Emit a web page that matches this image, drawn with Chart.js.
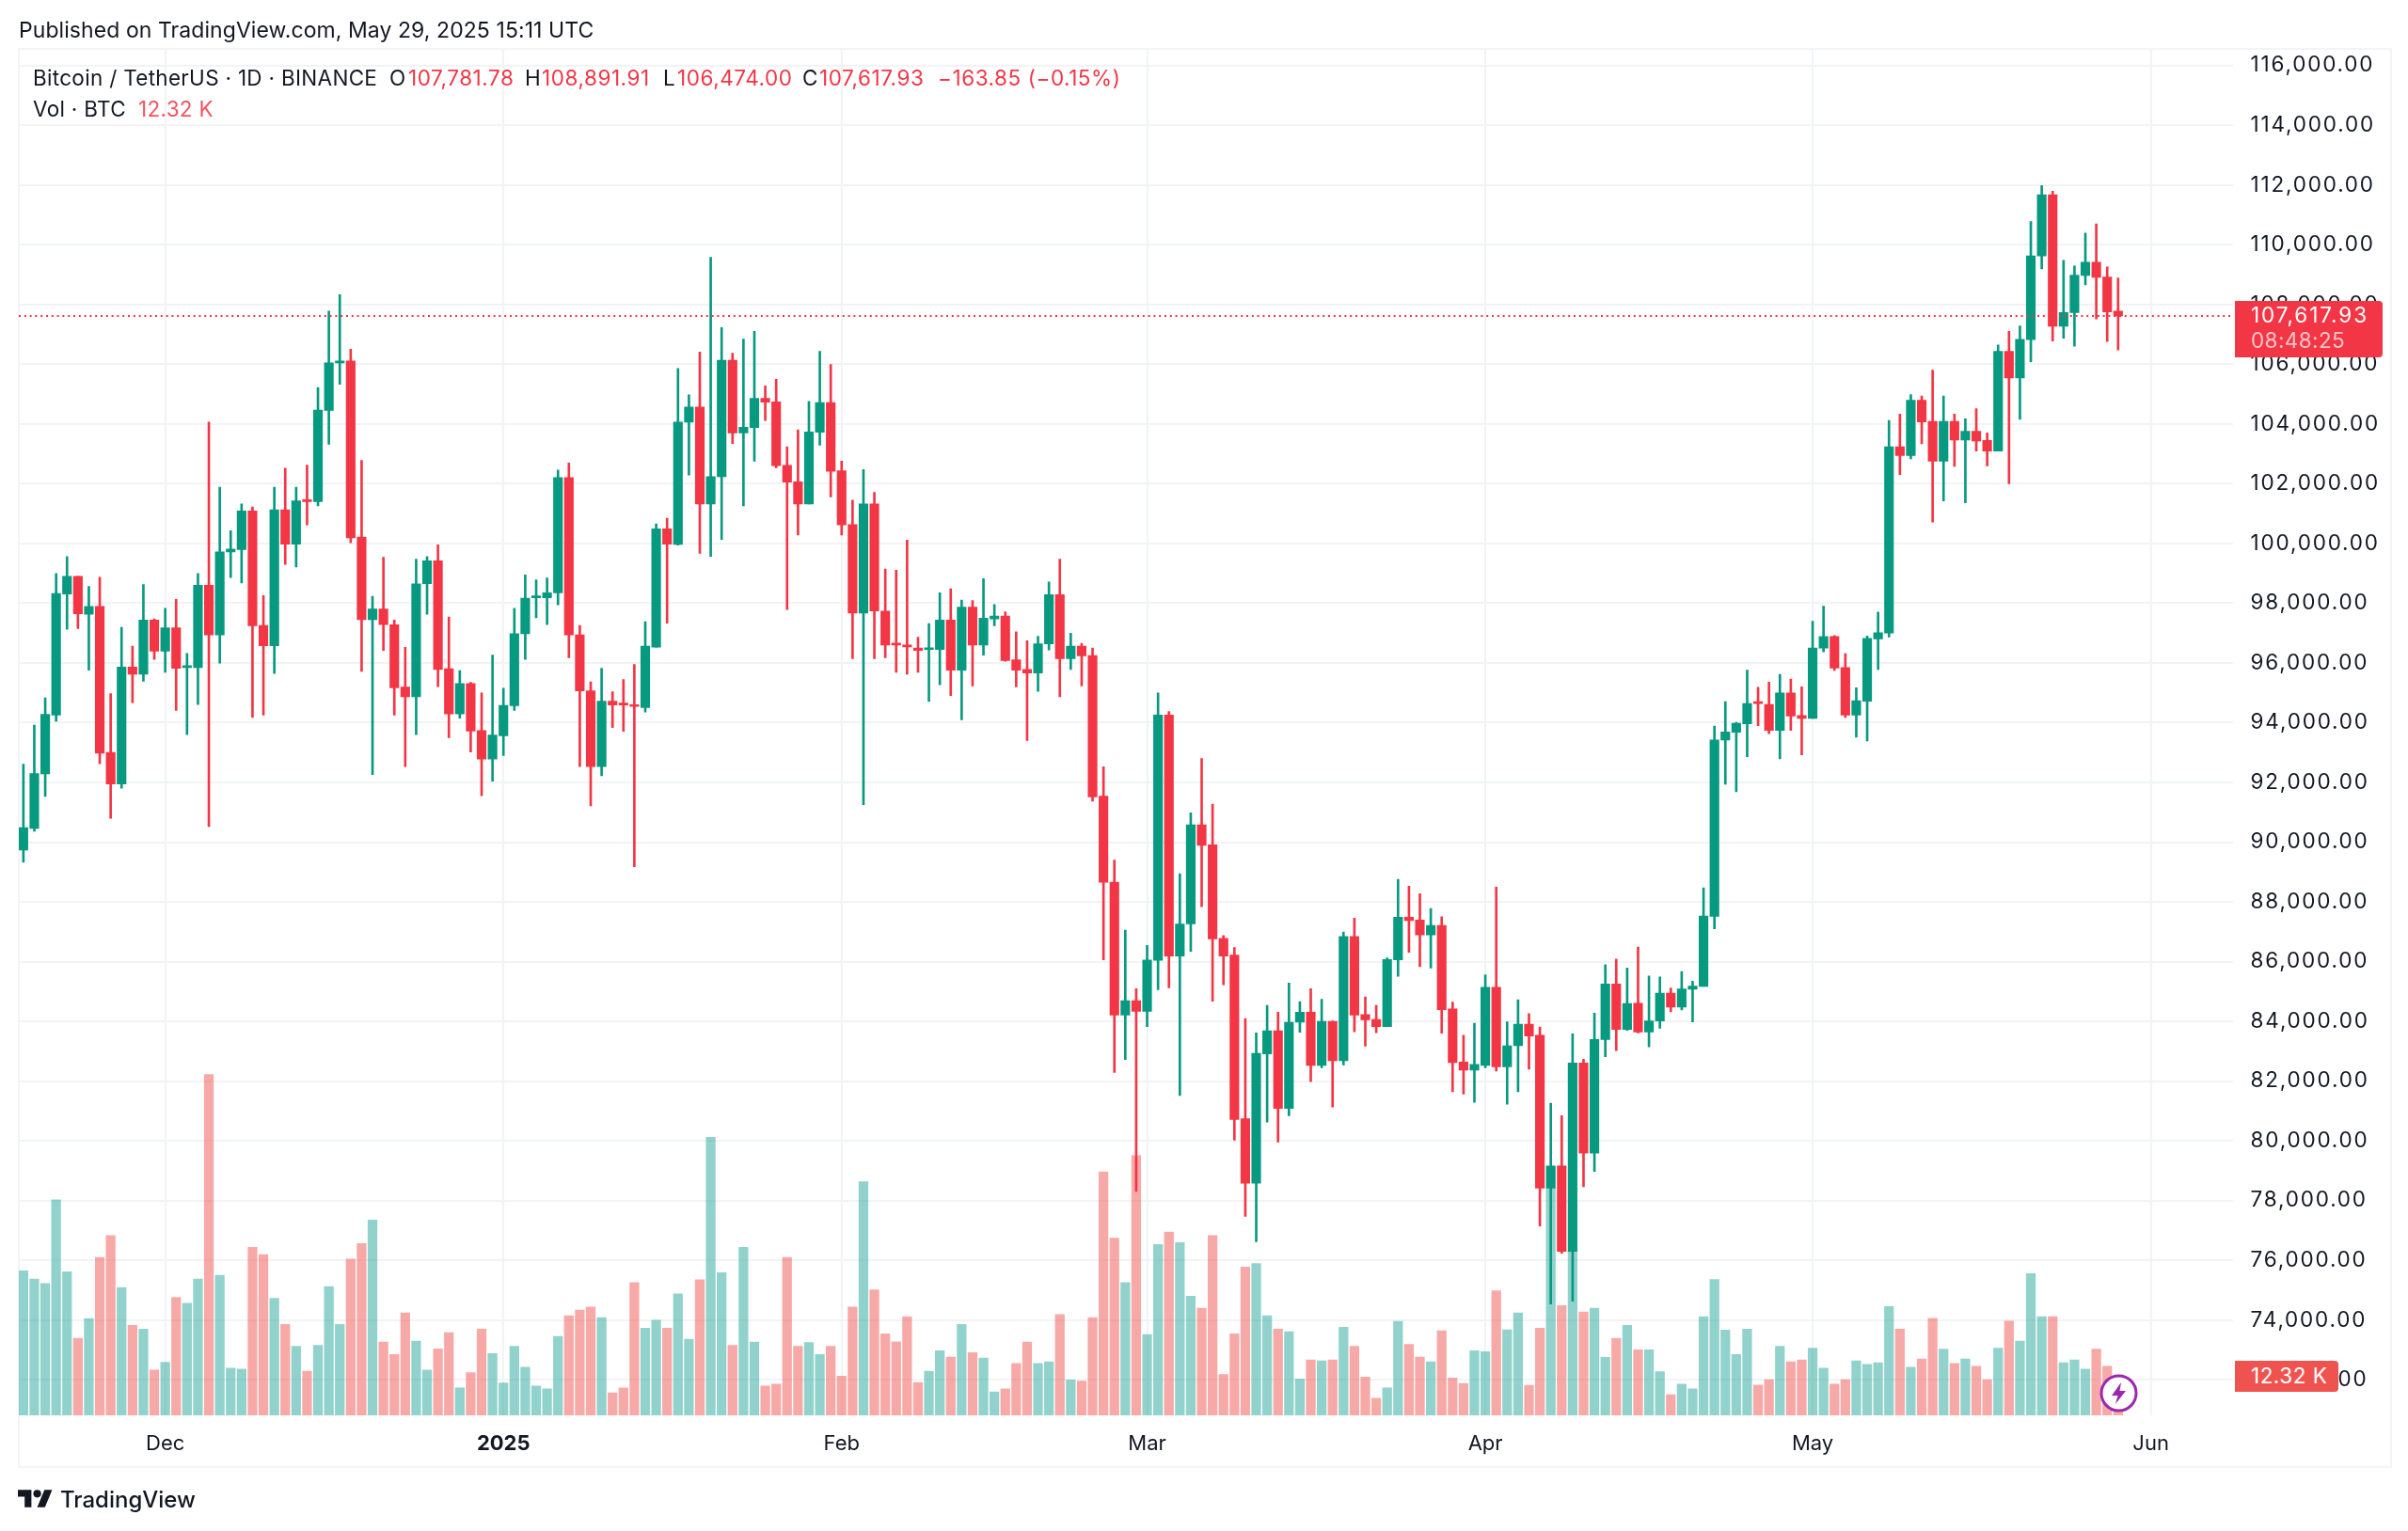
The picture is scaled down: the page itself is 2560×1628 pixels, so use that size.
<!DOCTYPE html>
<html>
<head>
<meta charset="utf-8">
<title>BTCUSDT</title>
<script src="https://cdn.jsdelivr.net/npm/chart.js@4/dist/chart.umd.min.js"></script>
<style>
html, body { margin: 0; padding: 0; background: #fff; }
body { position: relative; width: 2560px; height: 1628px; overflow: hidden; font-family: Inter, "Noto Sans", sans-serif; color: #131722; }
canvas { position: absolute; left: 0; top: 0; }
.t { position: absolute; white-space: nowrap; line-height: 30px; font-size: 22.5px; letter-spacing: 0.3px; }
.red { color: #F23645; letter-spacing: 0.55px; }
#frame { position: absolute; left: 19px; top: 51px; width: 2520px; height: 1506px; border: 2px solid #F3F4F7; }
.badge { position: absolute; color: #fff; font-size: 22.5px; }
#price-badge { left: 2376px; top: 320px; width: 157px; height: 60px; background: #F23645; border-radius: 0 4px 4px 0; }
#vol-badge { left: 2376px; top: 1447px; width: 110px; height: 33px; background: #EF5350; border-radius: 0 4px 4px 0; }
.badge span { position: absolute; left: 17px; line-height: 26px; white-space: nowrap; }
</style>
</head>
<body>
<div id="frame"></div>
<canvas id="chart" width="2560" height="1628"></canvas>

<div class="t" style="left:20px;top:17px;font-size:23px;letter-spacing:0.07px">Published on TradingView.com, May 29, 2025 15:11 UTC</div>
<div class="t" style="left:35px;top:68px">Bitcoin / TetherUS · 1D · BINANCE</div>
<div class="t" style="left:414px;top:68px">O</div><div class="t red" style="left:434px;top:68px">107,781.78</div>
<div class="t" style="left:558px;top:68px">H</div><div class="t red" style="left:576px;top:68px">108,891.91</div>
<div class="t" style="left:705px;top:68px">L</div><div class="t red" style="left:720px;top:68px">106,474.00</div>
<div class="t" style="left:853px;top:68px">C</div><div class="t red" style="left:871px;top:68px">107,617.93</div>
<div class="t red" style="left:997px;top:68px">−163.85 (−0.15%)</div>
<div class="t" style="left:35px;top:101px">Vol · BTC</div>
<div class="t" style="left:147px;top:101px;color:#F7525F">12.32 K</div>

<div class="badge" id="price-badge">
  <span style="top:2px;letter-spacing:1.9px">107,617.93</span>
  <span style="top:29px;opacity:.7;letter-spacing:0.4px">08:48:25</span>
</div>
<div class="badge" id="vol-badge"><span style="top:3px;letter-spacing:0.5px">12.32 K</span></div>

<svg style="position:absolute;left:2232px;top:1461px" width="41" height="41" viewBox="0 0 41 41">
  <circle cx="20.5" cy="20.5" r="18.5" fill="#fff" stroke="#9C27B0" stroke-width="3"/>
  <path d="M23 9 L13 23 L19.5 23 L17 32 L28 18 L21.5 18 Z" fill="#9C27B0"/>
</svg>

<svg style="position:absolute;left:19px;top:1584px" width="37" height="19" viewBox="0 4 36 18">
  <path d="M14 22H7V11H0V4h14v18zM28 22h-8l7.5-18h8L28 22z" fill="#131722"/>
  <circle cx="20" cy="8" r="4" fill="#131722"/>
</svg>
<div class="t" style="left:64px;top:1580px;font-size:24px;font-weight:500;letter-spacing:0">TradingView</div>

<script>
'use strict';

// Daily candles, Nov 18 2024 to May 29 2025
const opens = [
    89740,90461,92287,94256,98311,98898,97633,97894,93003,91948,
    95860,95625,97437,96394,97177,95847,95847,98598,96942,99719,
    99797,101089,97255,96577,101128,99980,101454,101402,104453,106044,
    106109,100215,97450,97803,97281,95195,94869,98650,99420,95807,
    94294,95312,93734,92782,93565,94569,96981,98181,98181,98350,
    102210,96942,95065,92534,94725,94660,94595,94503,96525,100489,
    99967,104062,104570,101323,102236,106135,103697,103879,104857,104740,
    102614,102067,101323,103723,104714,102432,100632,97672,101323,97737,
    96655,96590,96499,96447,96447,97437,95755,97867,96603,97477,
    97568,96107,95781,95664,96642,98285,96146,96564,96251,91543,
    88659,84213,84695,84341,86043,94260,86187,87262,90585,89911,
    86781,86219,80746,78580,82913,83684,81083,83972,84309,82528,
    84005,82688,86845,84229,84068,83828,86059,87487,87391,86893,
    87214,84422,82640,82367,82528,85144,82480,83186,83908,83539,
    78420,79158,76300,82608,79591,83395,85256,83731,84608,83645,
    84015,84945,84480,85074,85170,87514,93420,93677,93966,94688,
    94608,93741,94993,94238,94142,96501,96887,95843,94254,94720,
    96806,96999,103239,102945,104794,104090,102756,104090,103460,103754,
    103450,103092,106433,105540,106821,109626,111674,107273,107725,108975,
    109416,108922,107781.78
];
const highs = [
    92613,93917,94830,98998,99563,98898,98559,98872,94973,97190,
    96564,98624,97477,97829,98129,96316,98998,104062,101884,100424,
    101323,101219,98259,101884,102523,101884,102627,105222,107778,108326,
    106500,102784,98233,99537,97437,96525,99472,99563,99954,97542,
    95742,95351,95000,96264,95155,97829,98950,98781,98846,102458,
    102692,97255,95364,95820,95038,95442,95951,97385,100658,100841,
    105861,104975,106409,109578,107230,106370,106839,107100,105274,105496,
    103240,103801,104753,106435,105992,102758,101454,102471,101714,99146,
    99107,100111,96864,97320,98350,98481,98102,98089,98820,97959,
    97711,97046,96746,96890,98715,99472,96994,96655,96499,92527,
    89397,87054,85096,86540,95000,94373,88948,90986,92800,91275,
    86877,86476,84100,83619,84534,84309,85288,84662,85096,84743,
    84020,86990,87455,84823,84534,86123,88755,88530,88274,87776,
    87503,84646,83539,83940,85561,88498,83988,84726,84261,83812,
    81260,80843,83587,82737,84277,85898,86091,85786,86486,85523,
    85491,85122,85668,85347,88476,93885,94704,94014,95763,95185,
    95362,95619,95458,95201,97400,97898,96919,96309,95169,96903,
    97705,104122,104332,104983,104941,105802,104941,104332,104174,104510,
    103702,106643,107105,107283,110781,111979,111790,109479,109290,110393,
    110697,109258,108891.91
];
const lows = [
    89330,90370,91530,94047,97125,97151,95755,92626,90800,91804,
    94673,95390,96120,95690,94412,93604,94608,90526,95990,98859,
    98676,94177,94256,95651,99302,99211,100619,101258,103318,105327,
    100020,95717,92261,96420,94256,92534,93604,97633,95208,93499,
    94151,93017,91556,92039,92899,94412,96120,97516,97281,97946,
    96173,92534,91217,92221,93838,93708,89177,94360,96525,97333,
    99941,102288,99667,99563,100137,103345,101258,102758,104114,102536,
    97790,100280,101323,103292,101558,100280,96146,91256,96146,96173,
    95690,95625,95690,94712,95273,94908,94099,95234,96264,97242,
    96055,95195,93408,95051,96433,94869,95781,95234,91374,86059,
    82287,82720,78307,83828,85064,85128,81517,86348,87840,84679,
    85224,80024,77472,76621,80634,79960,80842,83635,81982,82447,
    81131,82544,83651,83170,83619,83828,85513,86316,85834,85786,
    83603,81645,81565,81292,82447,82335,81228,81645,82399,77151,
    74535,76236,74631,78467,78981,82816,83025,83700,83613,83148,
    83774,84319,84384,83982,85170,87096,91943,91686,92858,93901,
    93629,92794,93741,92922,94142,96373,95747,94174,93516,93388,
    95779,96871,102305,102830,103334,100718,101422,102578,101359,103092,
    102598,103092,102000,104153,106086,109195,106779,106874,106601,108659,
    107514,106758,106474
];
const closes = [
    90487,92300,94282,98324,98898,97646,97894,92978,91948,95860,
    95625,97437,96394,97177,95820,95899,98598,96942,99719,99810,
    101089,97242,96577,101128,99980,101428,101402,104466,106044,106109,
    100189,97450,97803,97281,95168,94869,98650,99420,95781,94294,
    95312,93721,92782,93591,94582,96981,98168,98233,98350,102210,
    96942,95065,92534,94725,94595,94595,94543,96564,100489,99980,
    104062,104570,101323,102236,106135,103697,103892,104857,104727,102601,
    102054,101323,103736,104714,102419,100619,97672,101323,97737,96603,
    96603,96538,96420,96499,97437,95755,97867,96603,97503,97568,
    96081,95755,95664,96642,98285,96146,96564,96237,91517,88659,
    84213,84695,84341,86059,94260,86187,87262,90585,89895,86765,
    86187,80714,78580,82929,83684,81083,83972,84309,82528,84005,
    82688,86845,84213,84052,83828,86075,87487,87375,86893,87214,
    84390,82624,82367,82560,85144,82480,83186,83908,83507,78420,
    79158,76300,82608,79591,83395,85256,83731,84598,83645,84015,
    84945,84480,85090,85186,87530,93420,93693,93982,94640,94640,
    93741,94993,94222,94142,96501,96887,95827,94254,94736,96822,
    97015,103239,102945,104794,104069,102756,104090,103460,103754,103428,
    103092,106433,105540,106832,109626,111674,107273,107735,108985,109416,
    108912,107756,107617.93
];
// Volume in thousands of BTC
const volumes = [
    45.4,42.8,41.4,67.7,45.1,24.2,30.4,49.6,56.5,40.2,
    28.3,27.1,14.2,16.7,37.1,35.2,42.8,107.1,44.0,14.8,
    14.5,52.8,50.5,36.8,28.6,21.7,13.9,22.0,40.5,28.6,
    49.1,54.0,61.4,23.0,19.1,32.2,23.3,14.2,20.9,26.0,
    8.6,13.4,27.1,19.4,10.2,21.7,15.1,9.2,8.3,24.8,
    31.3,33.1,34.0,30.7,7.1,8.6,41.7,27.4,29.9,27.4,
    38.2,23.9,42.6,87.4,44.8,22.0,52.8,23.0,9.2,9.8,
    49.6,21.7,22.9,19.1,21.7,12.3,34.0,73.4,39.4,25.6,
    23.1,31.0,10.3,13.9,20.3,18.3,28.6,19.7,18.0,7.4,
    8.3,16.3,23.0,16.3,16.8,31.7,11.1,10.8,30.7,76.5,
    55.7,41.7,81.6,25.4,53.7,57.6,54.3,37.4,33.7,56.5,
    12.8,25.6,46.6,47.7,31.3,27.1,26.3,11.4,17.4,17.1,
    17.4,27.7,21.7,12.0,5.4,8.6,29.5,22.3,18.3,16.8,
    26.6,11.7,10.0,20.3,20.0,39.1,26.9,32.2,9.4,27.4,
    71.4,34.5,51.7,32.5,33.7,18.2,24.2,28.3,20.6,20.6,
    13.7,6.5,9.8,8.3,31.0,42.7,26.8,19.1,27.1,9.5,
    11.2,21.7,16.8,17.4,21.1,14.8,9.8,11.2,17.1,16.0,
    16.5,34.2,27.1,15.1,17.7,30.5,20.8,16.3,17.7,15.4,
    11.2,21.1,29.6,23.3,44.5,31.0,31.0,16.5,17.4,14.5,
    20.8,15.4,12.32
];

const priceTicks = [72000,74000,76000,78000,80000,82000,84000,86000,88000,90000,92000,94000,
    96000,98000,100000,102000,104000,106000,108000,110000,112000,114000,116000];
const monthTicks = [13, 44, 75, 103, 134, 164, 195];   // bar index of each month's first day
const monthLabels = ['Dec', '2025', 'Feb', 'Mar', 'Apr', 'May', 'Jun'];
const lastPrice = closes[closes.length - 1];

const palette = {
    up: '#089981', down: '#F23645',
    volUp: 'rgba(38,166,154,0.5)', volDown: 'rgba(239,83,80,0.5)',
    grid: '#F2F3F5', text: '#131722'
};

const isUp = i => closes[i] >= opens[i];
const candleColors = opens.map((_, i) => isUp(i) ? palette.up : palette.down);
const volumeColors = opens.map((_, i) => isUp(i) ? palette.volUp : palette.volDown);

const xMin = -0.42, xMax = 202.5;

// The price labels run wider than Inter does by default
function spacePriceLabels(scale) {
    if (scale.spaced) return;
    scale.spaced = true;
    const draw = scale.drawLabels.bind(scale);
    scale.drawLabels = area => {
        scale.ctx.letterSpacing = '1.8px';
        draw(area);
        scale.ctx.letterSpacing = '0px';
    };
}

new Chart(document.querySelector('#chart').getContext('2d'), {
    type: 'bar',
    data: {
        datasets: [
            {
                label: 'Last price',
                type: 'line',
                data: [{ x: xMin, y: lastPrice }, { x: xMax, y: lastPrice }],
                borderColor: palette.down,
                borderWidth: 2,
                borderDash: [2, 3.8],
                pointRadius: 0,
                yAxisID: 'y',
                order: 0
            },
            {
                label: 'Body',
                data: opens.map((o, i) => ({ x: i, y: [o, closes[i]] })),
                backgroundColor: candleColors,
                barThickness: 9.5,
                minBarLength: 2,
                yAxisID: 'y',
                order: 1
            },
            {
                label: 'Wick',
                data: lows.map((l, i) => ({ x: i, y: [l, highs[i]] })),
                backgroundColor: candleColors,
                barThickness: 2,
                yAxisID: 'y',
                order: 2
            },
            {
                label: 'Volume',
                data: volumes.map((v, i) => ({ x: i, y: v })),
                backgroundColor: volumeColors,
                barThickness: 9.6,
                yAxisID: 'volume',
                order: 3
            }
        ]
    },
    options: {
        responsive: false,
        animation: false,
        devicePixelRatio: 1,
        grouped: false,
        layout: { padding: { left: 20, top: 52, right: 19, bottom: 68 } },
        plugins: { legend: { display: false }, tooltip: { enabled: false } },
        scales: {
            x: {
                type: 'linear',
                offset: false,
                min: xMin,
                max: xMax,
                grid: { offset: false, color: palette.grid, lineWidth: 2, drawTicks: false },
                border: { display: false },
                afterFit: s => { s.height = 55; },
                afterBuildTicks: s => { s.ticks = monthTicks.map(v => ({ value: v })); },
                ticks: {
                    autoSkip: false,
                    maxRotation: 0,
                    padding: 17,
                    color: palette.text,
                    font: c => ({ family: 'Inter', size: 22, weight: c.tick && c.tick.value === 44 ? 'bold' : 'normal' }),
                    callback: v => monthLabels[monthTicks.indexOf(v)]
                }
            },
            y: {
                position: 'right',
                min: 70813,
                max: 116557,
                grid: { color: palette.grid, lineWidth: 2, drawTicks: false },
                border: { display: false },
                afterFit: s => { s.width = 167.4; spacePriceLabels(s); },
                afterBuildTicks: s => { s.ticks = priceTicks.map(v => ({ value: v })); },
                ticks: {
                    autoSkip: false,
                    padding: 19,
                    color: palette.text,
                    font: { family: 'Inter', size: 22.5 },
                    callback: v => v.toLocaleString('en-US', { minimumFractionDigits: 2, maximumFractionDigits: 2 })
                }
            },
            volume: { display: false, min: 0, max: 429.4 }
        }
    }
});
</script>
</body>
</html>
